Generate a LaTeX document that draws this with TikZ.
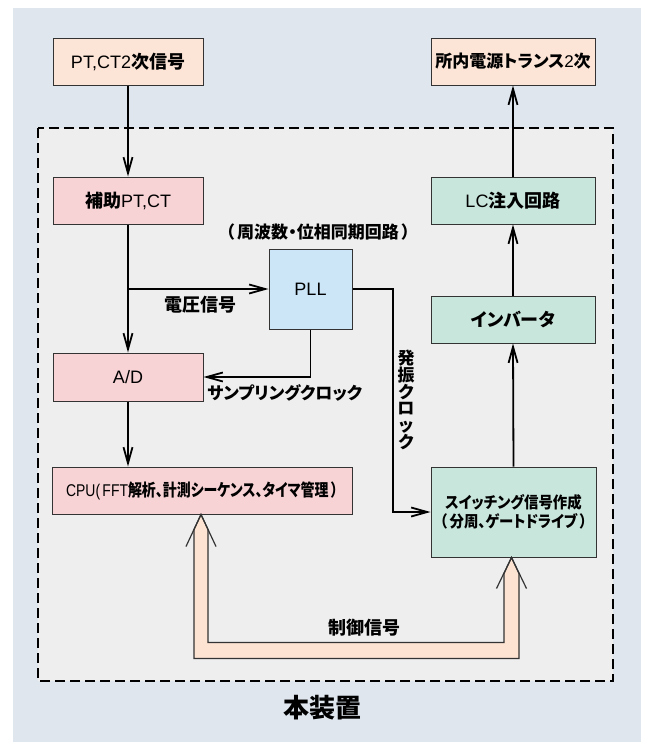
\documentclass[tikz,border=0pt]{standalone}
\usepackage{fontspec}
\setmainfont{Liberation Sans}
\newfontfamily\jpf{Noto Sans CJK JP}[RawFeature=+palt]
\usetikzlibrary{arrows.meta,calc}
\newcommand\J[1]{{\jpf\bfseries #1}}
\definecolor{bgc}{HTML}{DFE6EE}
\definecolor{innerc}{HTML}{EEEEEE}
\definecolor{peachc}{HTML}{FCE4D6}
\definecolor{pinkc}{HTML}{F8D3D6}
\definecolor{bluec}{HTML}{CCE6F7}
\definecolor{greenc}{HTML}{C9E6DD}
\definecolor{arrc}{HTML}{FDE3D2}
\definecolor{edgec}{HTML}{333333}
\begin{document}
\begin{tikzpicture}[x=1pt,y=-1pt,
  box/.style={draw=edgec, line width=1pt, inner sep=0pt, minimum height=47pt, align=center,
    font=\fontsize{18}{20}\selectfont},
  lbl/.style={inner sep=0pt, font=\fontsize{17}{19}\selectfont},
  conn/.style={line width=1.8pt, draw=black},
  arr/.style={conn, -{Straight Barb[length=16pt,width=9pt]}},
  bigarr/.style={draw=edgec, line width=1.2pt, line join=miter}]
\useasboundingbox (0,0) rectangle (647,742);
\fill[bgc] (13,8) rectangle (641,742);
\draw[fill=innerc, line width=2pt, dash pattern=on 10pt off 5pt] (38,128) rectangle (613,681);

% boxes
\node[box, fill=peachc, minimum width=150pt] (top1) at (128,61.5) {PT,CT2\J{次信号}};
\node[box, fill=pinkc, minimum width=150pt] (aux) at (128,200.5) {\J{補助}PT,CT};
\node[box, fill=pinkc, minimum width=150pt, minimum height=48pt] (ad) at (128,377) {A/D};
\node[box, fill=pinkc, minimum width=300pt] (cpu) at (202,490.5)
  {\scalebox{0.82}[1]{\fontsize{17}{19}\selectfont CPU(\,FFT\J{解析、計測シーケンス、タイマ管理\,）}}};
\node[box, fill=bluec, minimum width=83pt, minimum height=80pt] (pll) at (310.5,289) {PLL};
\node[box, fill=peachc, minimum width=164pt] (top2) at (513,61.5) {\fontsize{17}{19}\selectfont\J{所内電源トランス}2\J{次}};
\node[box, fill=greenc, minimum width=164pt] (lc) at (513,200.5) {LC\J{注入回路}};
\node[box, fill=greenc, minimum width=164pt] (inv) at (513,319.5) {\J{インバータ}};
\node[box, fill=greenc, minimum width=165pt, minimum height=90pt] (sw) at (513.5,512)
  {\scalebox{0.9}[1]{\fontsize{16}{20}\selectfont\J{スイッチング信号作成}}\\[-1pt]\scalebox{0.9}[1]{\fontsize{16}{20}\selectfont\J{（\,分周、ゲートドライブ\,）}}};

% labels
\node[lbl, font=\fontsize{18}{20}\selectfont] (vlbl) at (200,305) {\J{電圧信号}};
\node[lbl, anchor=west] (slbl) at (207,393) {\J{サンプリングクロック}};
\node[lbl] (plbl) at (318,232) {\J{（\,周波数・位相同期回路\,）}};
\node[lbl, align=center, font=\fontsize{17}{16.7}\selectfont] (olbl) at (406,400) {\J{発}\\\J{振}\\\J{ク}\\\J{ロ}\\\J{ッ}\\\J{ク}};
\node[lbl, font=\fontsize{18}{20}\selectfont] (clbl) at (364,628) {\J{制御信号}};
\node[lbl, font=\fontsize{26}{28}\selectfont] (hlbl) at (322,708) {\J{本装置}};

% connectors
\draw[arr] (top1.south) -- (aux.north);
\draw[arr] (aux.south) -- (ad.north);
\draw[arr] (ad.south) -- (ad.south |- cpu.north);
\coordinate (br) at (aux.south |- pll.west);
\draw[arr] (br) -- (pll.west);
\draw[arr] (pll.south) |- (ad.east);
\coordinate (oscx) at (393,0);
\draw[arr] (pll.east) -| (oscx |- sw.west) -- (sw.west);
\draw[arr] (sw.north) -- (inv.south);
\draw[arr] (inv.north) -- (lc.south);
\draw[arr] (lc.north) -- (top2.south);

% wide control-signal arrow
\coordinate (lt) at ($(cpu.south)+(-1,0)$);
\coordinate (rt) at ($(sw.south)+(-2,0)$);
\filldraw[bigarr, fill=arrc] (lt) -- ($(lt)+(-7,15)$) -- ($(lt)+(-7,144)$) -- ($(rt)+(7.5,101)$)
  -- ($(rt)+(7.5,16)$) -- (rt) -- ($(rt)+(-7.5,16)$) -- ($(rt)+(-7.5,85)$)
  -- ($(lt)+(7,128)$) -- ($(lt)+(7,15)$) -- cycle;
\draw[bigarr] ($(lt)+(-15,32)$) -- (lt) -- ($(lt)+(15,32)$);
\draw[bigarr] ($(rt)+(-15,31)$) -- (rt) -- ($(rt)+(15,31)$);
\end{tikzpicture}
\end{document}
